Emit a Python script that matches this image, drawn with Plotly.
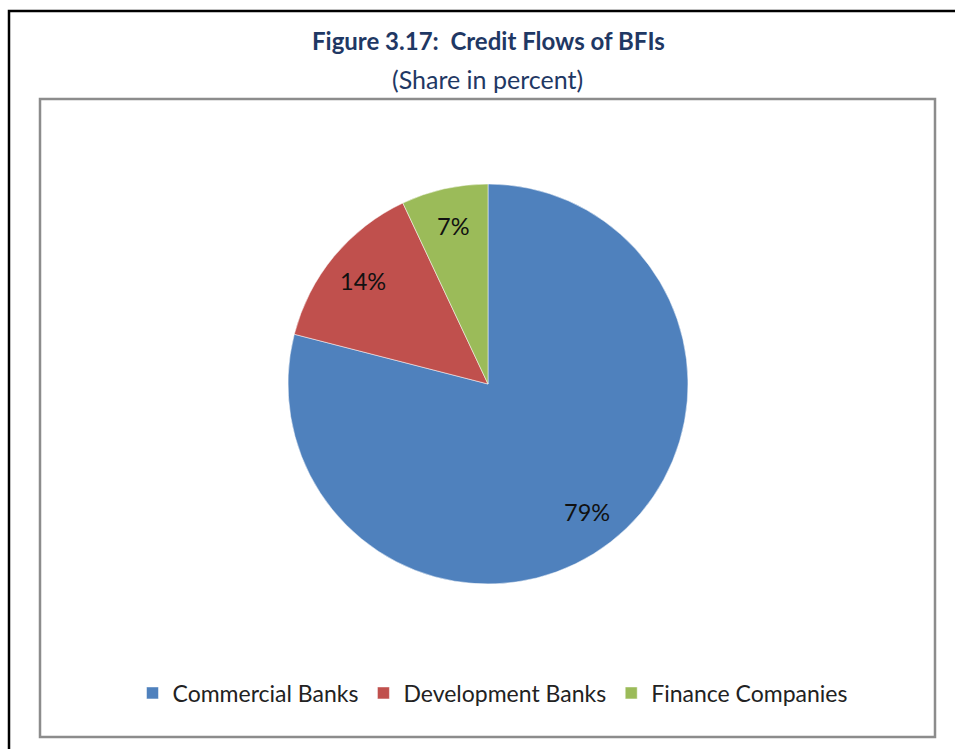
import math
import plotly.graph_objects as go

categories = ["Commercial Banks", "Development Banks", "Finance Companies"]
shares = [79, 14, 7]
colors = ["#4F81BD", "#C0504D", "#9BBB59"]

W, H = 955, 749

def px_x(x):
    return x / W

def px_y(y):
    return 1 - y / H

# pie centre and radius in pixels
cx, cy, r = 488, 384, 200

fig = go.Figure(go.Pie(
    labels=categories,
    values=shares,
    sort=False,
    direction="clockwise",
    rotation=0,
    marker=dict(colors=colors, line=dict(color="white", width=0.5)),
    textinfo="none",
    hoverinfo="label+percent",
    domain=dict(x=[px_x(cx - r), px_x(cx + r)], y=[px_y(cy + r), px_y(cy - r)]),
))

# percentage labels placed along each slice's mid-angle
total = sum(shares)
start = 0.0
for v in shares:
    mid = (start + v / 2) / total * 2 * math.pi
    start += v
    lx = cx + 0.81 * r * math.sin(mid)
    ly = cy - 0.81 * r * math.cos(mid)
    fig.add_annotation(text=f"{v}%", xref="paper", yref="paper",
                       x=px_x(lx), y=px_y(ly), xanchor="center", yanchor="middle",
                       showarrow=False,
                       font=dict(family="Lato", size=23.5, color="#111111"))

# outer black frame and inner grey chart frame
fig.add_shape(type="rect", xref="paper", yref="paper",
              x0=px_x(9), x1=px_x(980), y0=px_y(770), y1=px_y(11),
              line=dict(color="#000000", width=2.5), layer="below")
fig.add_shape(type="rect", xref="paper", yref="paper",
              x0=px_x(40), x1=px_x(935), y0=px_y(737), y1=px_y(99),
              line=dict(color="#8C8C8C", width=2.5), layer="below")

fig.add_annotation(text="<b>Figure 3.17:  Credit Flows of BFIs</b>",
                   xref="paper", yref="paper", x=px_x(488), y=px_y(41),
                   xanchor="center", yanchor="middle",
                   showarrow=False, font=dict(family="Lato", size=24, color="#1F3864"))
fig.add_annotation(text="(Share in percent)",
                   xref="paper", yref="paper", x=px_x(487), y=px_y(79),
                   xanchor="center", yanchor="middle",
                   showarrow=False, font=dict(family="Lato", size=25, color="#1F3864"))

fig.update_layout(
    width=W, height=H,
    margin=dict(l=0, r=0, t=0, b=0),
    paper_bgcolor="white",
    plot_bgcolor="white",
    showlegend=True,
    legend=dict(orientation="h", x=px_x(493), xanchor="center",
                y=px_y(693), yanchor="middle",
                font=dict(family="Lato", size=23, color="#222222"),
                itemwidth=30, tracegroupgap=0),
)

fig.write_html("out.html")
